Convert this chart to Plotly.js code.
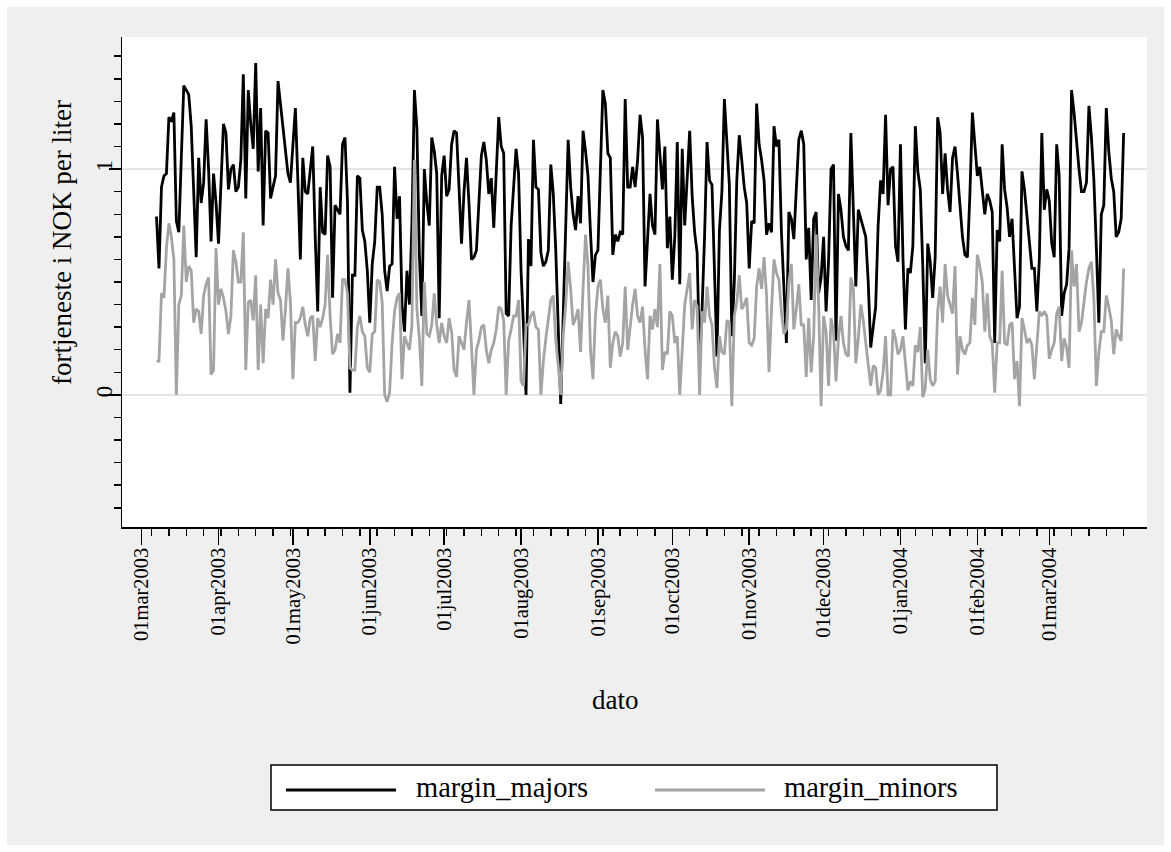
<!DOCTYPE html>
<html>
<head>
<meta charset="utf-8">
<script src="https://cdn.plot.ly/plotly-3.0.1.min.js"></script>
<style>
html,body{margin:0;padding:0;background:#ffffff;}
#chart{position:absolute;left:7px;top:7px;width:1157px;height:838px;}
</style>
</head>
<body>
<div id="chart"></div>
<script>
// first observation date; one observation per day
const startDate = '2003-03-07';

const margin_majors = [
0.79,0.56,0.92,0.97,0.98,1.23,1.21,1.25,0.77,0.72,
1.05,1.37,1.35,1.33,1.19,0.85,0.61,1.05,0.85,0.94,
1.22,1.00,0.68,0.98,0.85,0.67,0.95,1.20,1.16,0.91,
1.00,1.02,0.90,0.92,1.04,1.42,0.87,1.35,1.20,1.09,
1.47,0.99,1.27,0.75,1.17,1.16,0.87,0.92,0.97,1.39,
1.28,1.18,1.08,0.98,0.94,1.10,1.27,0.95,0.60,1.05,
0.90,0.89,1.00,1.10,0.70,0.37,0.92,0.72,0.71,1.06,
1.01,0.43,0.84,0.82,0.80,1.11,1.14,0.86,0.01,0.53,
0.53,0.97,0.96,0.73,0.68,0.55,0.32,0.58,0.68,0.92,
0.92,0.80,0.55,0.46,0.57,0.58,1.01,0.78,0.88,0.40,
0.28,0.55,0.40,0.76,1.35,1.18,0.62,0.35,1.00,0.85,
0.75,1.14,1.08,0.98,0.34,0.97,1.06,0.88,0.91,1.11,
1.17,1.16,0.90,0.67,0.90,1.05,0.85,0.60,0.61,0.64,
0.85,1.06,1.12,1.04,0.89,0.96,0.74,1.00,1.23,1.10,
1.07,0.36,0.35,0.75,0.95,1.09,0.98,0.55,0.30,0.00,
0.69,0.57,1.13,0.92,0.91,0.63,0.57,0.59,0.64,1.02,
0.89,0.64,0.30,-0.04,0.35,0.75,1.13,0.92,0.80,0.73,
0.88,0.76,1.17,1.08,0.97,0.72,0.50,0.62,0.64,1.00,
1.35,1.29,1.07,1.05,0.62,0.71,0.68,0.72,0.71,1.31,
0.92,0.92,1.01,0.92,1.04,1.24,1.14,0.48,0.70,0.89,
0.75,0.71,1.22,1.06,0.91,1.10,0.65,0.79,0.51,0.70,
1.12,0.49,1.09,0.75,0.95,1.17,0.88,0.72,0.63,0.16,
0.38,0.70,1.12,0.95,0.93,0.50,0.17,0.73,0.90,1.31,
1.11,0.93,0.26,0.50,0.95,1.15,1.04,0.92,0.85,0.56,
0.77,0.76,1.29,1.11,1.04,0.95,0.71,0.76,0.72,1.19,
1.10,1.13,0.72,0.45,0.23,0.81,0.78,0.69,0.90,1.13,
1.17,1.11,0.60,0.74,0.42,0.78,0.81,0.45,0.52,0.70,
0.37,0.59,1.00,1.02,0.24,0.89,0.82,0.70,0.66,0.64,
1.16,0.79,0.48,0.82,0.78,0.73,0.70,0.50,0.21,0.30,
0.39,0.75,0.95,0.89,1.24,0.84,1.00,1.01,0.66,0.59,
1.11,0.61,0.29,0.56,0.54,0.66,1.19,0.99,0.91,0.57,
0.14,0.67,0.59,0.43,0.61,1.23,1.16,0.89,1.07,0.91,
0.81,1.05,1.10,0.98,0.83,0.70,0.62,0.61,0.89,1.25,
1.11,0.97,1.01,0.89,0.80,0.89,0.86,0.81,0.23,0.73,
0.68,1.11,0.91,0.83,0.70,0.78,0.57,0.34,0.39,0.99,
0.91,0.80,0.67,0.56,0.56,0.37,0.60,1.16,0.82,0.91,
0.86,0.67,0.61,1.11,0.97,0.35,0.45,0.49,0.65,1.35,
1.25,1.12,1.00,0.90,0.90,0.94,1.28,1.14,0.95,0.65,
0.32,0.80,0.84,1.27,1.08,0.96,0.90,0.70,0.72,0.78,
1.16];

const margin_minors = [
0.15,0.15,0.45,0.43,0.65,0.76,0.70,0.60,0.00,0.40,
0.44,0.75,0.50,0.57,0.55,0.32,0.38,0.37,0.27,0.44,
0.49,0.52,0.09,0.11,0.65,0.40,0.47,0.43,0.37,0.27,
0.35,0.64,0.59,0.50,0.50,0.72,0.11,0.41,0.42,0.33,
0.53,0.11,0.40,0.14,0.38,0.34,0.51,0.40,0.60,0.45,
0.42,0.24,0.38,0.56,0.41,0.07,0.32,0.32,0.34,0.39,
0.31,0.26,0.34,0.35,0.15,0.34,0.30,0.34,0.40,0.62,
0.35,0.18,0.20,0.27,0.23,0.51,0.51,0.45,0.12,0.11,
0.11,0.30,0.35,0.28,0.26,0.12,0.10,0.27,0.28,0.51,
0.50,0.41,0.00,-0.03,0.01,0.23,0.37,0.43,0.45,0.07,
0.26,0.23,0.20,0.31,1.04,0.38,0.25,0.04,0.50,0.27,
0.26,0.31,0.45,0.31,0.23,0.32,0.26,0.23,0.34,0.28,
0.11,0.08,0.26,0.23,0.20,0.32,0.42,0.22,0.00,0.20,
0.24,0.30,0.31,0.20,0.14,0.20,0.23,0.29,0.39,0.38,
0.33,0.00,0.24,0.29,0.35,0.35,0.42,0.06,0.04,0.31,
0.31,0.35,0.37,0.30,0.29,0.00,0.15,0.25,0.35,0.42,
0.44,0.24,0.13,0.00,0.26,0.40,0.59,0.47,0.31,0.34,
0.38,0.19,0.47,0.71,0.57,0.20,0.07,0.35,0.48,0.51,
0.38,0.32,0.44,0.12,0.23,0.28,0.26,0.17,0.23,0.48,
0.20,0.31,0.40,0.47,0.35,0.32,0.39,0.20,0.07,0.35,
0.29,0.38,0.30,0.58,0.11,0.19,0.18,0.37,0.35,0.23,
0.26,0.00,0.23,0.40,0.47,0.54,0.29,0.42,0.39,0.00,
0.37,0.32,0.48,0.35,0.31,0.12,0.03,0.26,0.19,0.18,
0.33,0.32,-0.05,0.35,0.41,0.53,0.38,0.40,0.43,0.23,
0.22,0.25,0.48,0.56,0.47,0.61,0.44,0.10,0.38,0.60,
0.54,0.51,0.37,0.27,0.29,0.50,0.58,0.29,0.38,0.49,
0.31,0.31,0.08,0.34,0.10,0.26,0.71,0.40,-0.05,0.35,
0.28,0.04,0.34,0.28,0.06,0.25,0.35,0.23,0.18,0.17,
0.52,0.47,0.14,0.25,0.40,0.33,0.23,0.12,0.04,0.13,
0.12,0.00,0.02,0.10,0.26,0.00,0.00,0.29,0.25,0.18,
0.20,0.26,0.12,0.02,0.06,0.04,0.22,0.19,0.30,-0.01,
0.03,0.20,0.07,0.04,0.06,0.37,0.48,0.32,0.58,0.44,
0.40,0.36,0.57,0.09,0.26,0.20,0.18,0.22,0.23,0.43,
0.31,0.62,0.57,0.50,0.28,0.45,0.26,0.23,0.01,0.23,
0.23,0.55,0.23,0.22,0.31,0.32,0.07,0.15,-0.05,0.34,
0.29,0.23,0.25,0.22,0.07,0.23,0.37,0.35,0.37,0.35,
0.16,0.20,0.23,0.36,0.39,0.15,0.25,0.21,0.12,0.64,
0.48,0.58,0.28,0.32,0.41,0.50,0.56,0.59,0.42,0.04,
0.19,0.28,0.28,0.44,0.39,0.33,0.18,0.29,0.26,0.24,
0.56];

const monthTicks = ['2003-03-01','2003-04-01','2003-05-01','2003-06-01','2003-07-01','2003-08-01',
  '2003-09-01','2003-10-01','2003-11-01','2003-12-01','2004-01-01','2004-02-01','2004-03-01'];
const monthLabels = ['01mar2003','01apr2003','01may2003','01jun2003','01jul2003','01aug2003',
  '01sep2003','01oct2003','01nov2003','01dec2003','01jan2004','01feb2004','01mar2004'];
const yTicks = [0, 1];
const yLabels = ['0', '1'];
const seriesNames = ['margin_majors', 'margin_minors'];
const xTitle = 'dato';
const yTitle = 'fortjeneste i NOK per liter';

function dailyDates(start, n) {
  const t0 = Date.parse(start + 'T00:00:00Z');
  const out = [];
  for (let i = 0; i < n; i++) out.push(new Date(t0 + i * 864e5).toISOString().slice(0, 10));
  return out;
}
function weeklyDates(start, end) {
  const t0 = Date.parse(start + 'T00:00:00Z'), t1 = Date.parse(end + 'T00:00:00Z');
  const out = [];
  for (let t = t0; t <= t1; t += 7 * 864e5) out.push(new Date(t).toISOString().slice(0, 10));
  return out;
}
const dates = dailyDates(startDate, margin_majors.length);

const FONT = 'Liberation Serif, Times New Roman, serif';

const traces = [
  {x: dates, y: margin_majors, type: 'scatter', mode: 'lines', name: seriesNames[0],
   line: {color: '#000000', width: 2.8}},
  {x: dates, y: margin_minors, type: 'scatter', mode: 'lines', name: seriesNames[1],
   line: {color: '#a4a4a4', width: 2.8}}
];

// page-pixel helpers for legend / titles (plot area spans x 115..1140, y 30..520 in the div)
const PL = 115, PW = 1025, PT = 30, PH = 490;
const px = v => (v - 7 - PL) / PW;
const py = v => (PT + PH - (v - 7)) / PH;

const layout = {
  width: 1157, height: 838,
  paper_bgcolor: '#efefef',
  plot_bgcolor: '#ffffff',
  margin: {l: PL, r: 1157 - PL - PW, t: PT, b: 838 - PT - PH, pad: 0},
  showlegend: false,
  font: {family: FONT, color: '#000000', size: 20},
  xaxis: {
    type: 'date',
    range: ['2003-02-21 02:00', '2004-04-09 10:00'],
    tickmode: 'array', tickvals: monthTicks, ticktext: monthLabels,
    tickangle: -90,
    ticks: 'outside', ticklen: 16, tickwidth: 1.5, tickcolor: '#000000',
    ticklabelstandoff: -5,
    tickfont: {family: FONT, size: 20.5, color: '#000000'},
    showline: true, linecolor: '#000000', linewidth: 1.5,
    showgrid: false, zeroline: false,
    minor: {tickmode: 'array', tickvals: weeklyDates('2003-03-05', '2004-04-05'),
            ticks: 'outside', ticklen: 7, tickwidth: 1.5, tickcolor: '#000000', showgrid: false}
  },
  yaxis: {
    range: [-0.585, 1.585],
    tickmode: 'array', tickvals: yTicks, ticktext: yLabels,
    tickangle: -90,
    ticks: 'outside', ticklen: 12, tickwidth: 1.5, tickcolor: '#000000',
    ticklabelstandoff: -13,
    tickfont: {family: FONT, size: 23, color: '#000000'},
    showline: true, linecolor: '#000000', linewidth: 1.5,
    showgrid: true, gridcolor: '#e4e4e4', gridwidth: 2.5,
    zeroline: false,
    minor: {tickmode: 'linear', tick0: 0, dtick: 0.1, ticks: 'outside', ticklen: 7,
            tickwidth: 1.5, tickcolor: '#000000', showgrid: false}
  },
  shapes: [
    {type: 'rect', xref: 'paper', yref: 'paper', x0: px(271), x1: px(997), y0: py(765), y1: py(810),
     line: {color: '#000000', width: 1.5}, fillcolor: '#ffffff', layer: 'below'},
    {type: 'line', xref: 'paper', yref: 'paper', x0: px(286), x1: px(396), y0: py(790), y1: py(790),
     line: {color: '#000000', width: 2.8}},
    {type: 'line', xref: 'paper', yref: 'paper', x0: px(655), x1: px(765), y0: py(790), y1: py(790),
     line: {color: '#a4a4a4', width: 2.8}}
  ],
  annotations: [
    {text: seriesNames[0], xref: 'paper', yref: 'paper', x: px(414), y: py(787), xanchor: 'left', yanchor: 'middle',
     showarrow: false, font: {family: FONT, size: 28.5, color: '#000000'}},
    {text: seriesNames[1], xref: 'paper', yref: 'paper', x: px(782), y: py(787), xanchor: 'left', yanchor: 'middle',
     showarrow: false, font: {family: FONT, size: 28.5, color: '#000000'}},
    {text: xTitle, xref: 'paper', yref: 'paper', x: px(615), y: py(700), xanchor: 'center', yanchor: 'middle',
     showarrow: false, font: {family: FONT, size: 27, color: '#000000'}},
    {text: yTitle, xref: 'paper', yref: 'paper', x: px(62), y: py(243), xanchor: 'center', yanchor: 'middle',
     textangle: -90, showarrow: false, font: {family: FONT, size: 27, color: '#000000'}}
  ]
};

Plotly.newPlot('chart', traces, layout, {displayModeBar: false, staticPlot: true});
</script>
</body>
</html>
